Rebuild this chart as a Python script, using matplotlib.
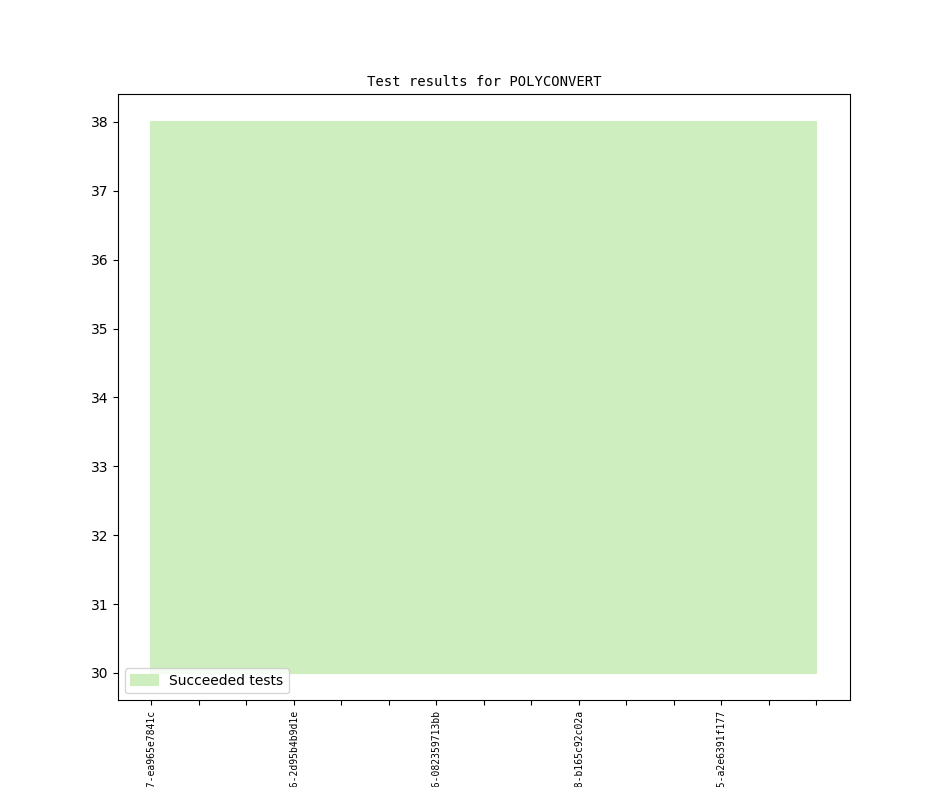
import numpy as np
import matplotlib
matplotlib.use('Agg')
import matplotlib.pyplot as plt

# one point per build, all builds had the same results
builds = np.arange(15)
succeeded = [38] * 15
baseline = [30] * 15

label_pos = [0, 3, 6, 9, 12]
labels = [
    "v1_3_0+0047-ea965e7841c",
    "v1_3_0+0056-2d95b4b9d1e",
    "v1_3_0+0066-082359713bb",
    "v1_3_0+0078-b165c92c02a",
    "v1_3_0+0085-a2e6391f177",
]

fig, ax = plt.subplots(figsize=(9.44, 7.87), dpi=100)

ax.fill_between(builds, baseline, succeeded, facecolor='#cfeec0',
                edgecolor='#cfeec0', linewidth=1.5, label='Succeeded tests')

ax.set_xticks(builds)
ax.set_xticklabels([labels[label_pos.index(i)] if i in label_pos else ''
                    for i in builds],
                   rotation=90, fontsize=7, family='DejaVu Sans Mono')
ax.set_title('Test results for POLYCONVERT', family='DejaVu Sans Mono',
             fontsize=10)
ax.legend(loc='lower left')

fig.savefig('out.png', dpi=100)
